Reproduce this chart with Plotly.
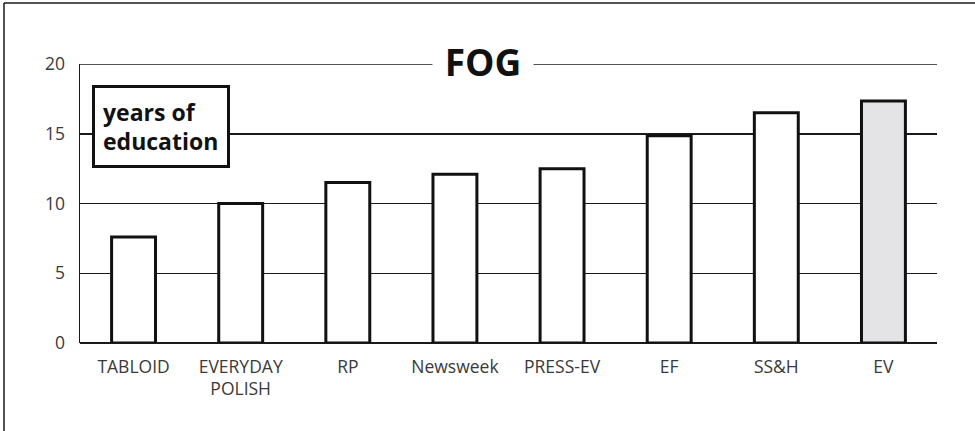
import plotly.graph_objects as go

categories = ["TABLOID", "EVERYDAY<br>POLISH", "RP", "Newsweek", "PRESS-EV", "EF", "SS&H", "EV"]
values = [7.6, 10.0, 11.5, 12.1, 12.5, 14.85, 16.5, 17.35]
bar_colors = ["white"] * 7 + ["#e4e4e6"]
y_ticks = [0, 5, 10, 15, 20]

W, H = 975, 431
L, R, T, B = 80, 937, 64, 343
pw, ph = R - L, B - T

def px_x(x):
    return (x - L) / pw

def px_y(y):
    return (B - y) / ph

fig = go.Figure()
fig.add_trace(go.Bar(
    x=list(range(len(categories))), y=values, width=0.41,
    marker=dict(color=bar_colors, line=dict(color="#111111", width=3)),
    hoverinfo="skip",
))

fig.update_layout(
    width=W, height=H,
    margin=dict(l=L, r=W - R, t=T, b=H - B),
    paper_bgcolor="white", plot_bgcolor="white",
    showlegend=False,
    font=dict(family="Open Sans", size=17.5, color="#3a3a3a"),
    xaxis=dict(
        tickmode="array", tickvals=list(range(len(categories))), ticktext=categories,
        range=[-0.5, len(categories) - 0.5], showgrid=False, zeroline=False,
        showline=False, ticks="", ticklabelstandoff=11,
        tickfont=dict(family="Open Sans", size=17.5, color="#3a3a3a"),
        fixedrange=True,
    ),
    yaxis=dict(
        range=[0, 20], tickvals=y_ticks, showgrid=True, gridcolor="#1a1a1a", gridwidth=1.5,
        zeroline=True, zerolinecolor="#1a1a1a", zerolinewidth=1.5,
        showline=True, linecolor="#1a1a1a", linewidth=1.5, ticks="",
        ticklabelstandoff=10,
        tickfont=dict(family="Open Sans", size=17.5, color="#3a3a3a"),
        fixedrange=True,
    ),
    shapes=[
        dict(type="line", xref="paper", yref="y", layer="below",
             x0=0, x1=1, y0=y_ticks[-1], y1=y_ticks[-1],
             line=dict(color="#1a1a1a", width=1.5)),
        dict(type="line", xref="paper", yref="paper",
             x0=px_x(4), x1=px_x(4), y0=px_y(3), y1=px_y(H + 5),
             line=dict(color="#1a1a1a", width=1.5)),
        dict(type="line", xref="paper", yref="paper",
             x0=px_x(4), x1=px_x(W + 5), y0=px_y(3), y1=px_y(3),
             line=dict(color="#1a1a1a", width=1.5)),
    ],
    annotations=[
        dict(text="<b>FOG</b>", xref="paper", yref="paper",
             x=px_x(483), y=1.0, xanchor="center", yanchor="middle",
             showarrow=False, bgcolor="white", borderpad=2, width=96, yshift=3,
             font=dict(family="Open Sans", size=37, color="#111111")),
        dict(text="<b>years of<br>education</b>", xref="paper", yref="paper",
             x=px_x(161), y=px_y(126.5), xanchor="center", yanchor="middle",
             showarrow=False, bgcolor="white", bordercolor="#111111", borderwidth=3,
             borderpad=8, width=116, height=61, align="left",
             font=dict(family="Open Sans", size=23, color="#111111")),
    ],
)

fig.write_html("out.html", config={"displayModeBar": False, "staticPlot": True},
               post_script="document.body.style.margin='0';")
